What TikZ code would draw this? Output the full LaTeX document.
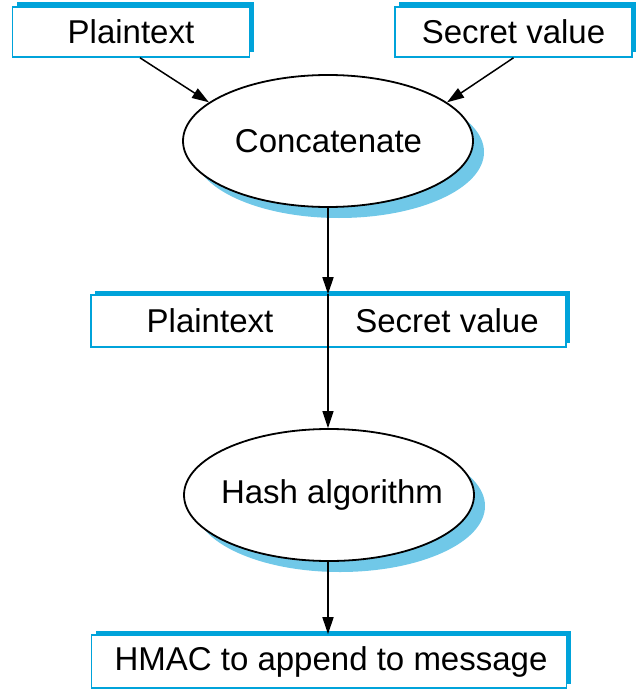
\documentclass[tikz,border=0pt]{standalone}
\usepackage{fontspec}
\setmainfont{Liberation Sans}
\usetikzlibrary{shadows,arrows.meta,calc,shapes.geometric}
\definecolor{boxblue}{HTML}{00A3DA}
\definecolor{shadowblue}{HTML}{70C8E8}
\begin{document}
\begin{tikzpicture}[x=1pt,y=-1pt,
  txt/.style={font=\fontsize{33}{37}\selectfont, text=black},
  bluebox/.style={draw=boxblue, line width=1.6pt, fill=white, inner sep=0pt,
    drop shadow={shadow xshift=4pt, shadow yshift=4.5pt, fill=boxblue, opacity=1},
    txt},
  oval/.style={ellipse, draw=black, line width=1.8pt, fill=white, inner sep=0pt,
    minimum width=290pt, minimum height=132pt,
    drop shadow={shadow xshift=11pt, shadow yshift=-11pt, fill=shadowblue, opacity=1}},
  arr/.style={line width=1.5pt, -{Triangle[length=17pt,width=11pt]}}
]
\useasboundingbox (0,0) rectangle (640,690);
\node[bluebox, minimum width=237pt, minimum height=50pt] (pt) at (131,32) {Plaintext};
\node[bluebox, minimum width=237pt, minimum height=50pt] (sv) at (513.5,32) {Secret value};
\node[oval] (concat) at (328,141) {};
\node[txt] (concattxt) at (328.5,141) {Concatenate};
\node[bluebox, minimum width=475pt, minimum height=52pt] (mid) at (328.5,321) {};
\node[txt] (midpt) at (210,321) {Plaintext};
\node[txt] (midsv) at (447,321) {Secret value};
\node[oval] (hash) at (329,495) {};
\node[txt] (hashtxt) at (332,495) {Hash algorithm};
\node[bluebox, minimum width=475pt, minimum height=53pt] (hmac) at (329,661.5) {\hspace*{4pt}HMAC to append to message};
\coordinate (midtop) at (concat.south |- mid.north);
\draw[arr] ([xshift=9pt]pt.south) -- (concat.162);
\draw[arr] (sv.south) -- (concat.18);
\draw[arr] (concat.south) -- (midtop);
\draw[arr] (midtop) -- (midtop |- hash.north);
\draw[arr] (midtop |- hash.south) -- (midtop |- hmac.north);
\end{tikzpicture}
\end{document}
